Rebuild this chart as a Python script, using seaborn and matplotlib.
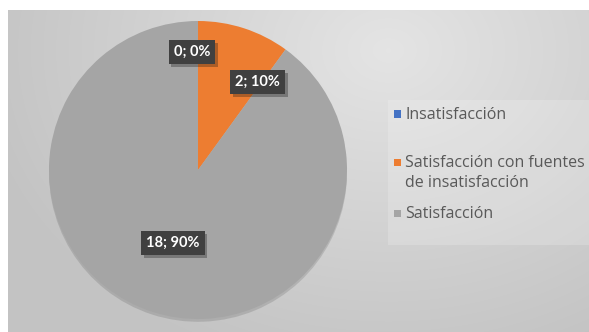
import numpy as np
import matplotlib
matplotlib.use("Agg")
import matplotlib.pyplot as plt
import matplotlib.patheffects as pe
from matplotlib.patches import Rectangle
import seaborn as sns

# Survey results
categories = ["Insatisfacción", "Satisfacción con fuentes\nde insatisfacción", "Satisfacción"]
counts = [0, 2, 18]
colors = ["#4472C4", "#ED7D31", "#A5A5A5"]

sns.set_theme(style="white")
plt.rcParams["font.family"] = ["Lato", "DejaVu Sans"]

W, H = 589, 332
fig = plt.figure(figsize=(W / 100, H / 100), dpi=100)
fig.patch.set_facecolor("white")

# Chart-area background with a soft radial gradient
bg = fig.add_axes([8 / W, 0, (W - 8) / W, (H - 10) / H])
yy, xx = np.mgrid[0:H - 10, 0:W - 8]
d = np.sqrt(((xx - 380) / 420.0) ** 2 + ((yy - 40) / 330.0) ** 2)
d = np.clip(d, 0, 1)
shade = 0.895 - 0.13 * d
bg.imshow(np.dstack([shade] * 3), aspect="auto", interpolation="bilinear")
bg.set_axis_off()

# Lighter legend panel
fig.patches.append(Rectangle((388 / W, 1 - 245 / H), (W - 388) / W, 145 / H,
                             transform=fig.transFigure, facecolor="white",
                             alpha=0.18, edgecolor="none", zorder=1))

# Pie
cx, cy, r = 198, 170, 149
ax = fig.add_axes([(cx - r) / W, (H - cy - r) / H, 2 * r / W, 2 * r / H])
ax.set_facecolor("none")
wedges, _ = ax.pie(counts, colors=colors, startangle=90, counterclock=False,
                   radius=1.0, wedgeprops=dict(linewidth=0))
for w in wedges:
    w.set_path_effects([pe.SimplePatchShadow(offset=(0, -2), alpha=0.12,
                                             shadow_rgbFace="black"), pe.Normal()])
ax.set_xlim(-1, 1)
ax.set_ylim(-1, 1)
ax.set_aspect("equal")
ax.set_axis_off()

# Data labels: "count; percent"
total = sum(counts)
label_pos = [(-0.04, 0.79), (0.40, 0.59), (-0.17, -0.49)]
for n, (lx, ly) in zip(counts, label_pos):
    txt = f"{n}; {round(100 * n / total)}%"
    ax.text(lx, ly, txt, ha="center", va="center", color="white",
            fontsize=10.5, fontweight="bold",
            bbox=dict(boxstyle="square,pad=0.35", facecolor="#404040",
                      edgecolor="none",
                      path_effects=[pe.SimplePatchShadow(offset=(2, -2), alpha=0.3),
                                    pe.Normal()]),
            zorder=5)

# Legend entries (swatch aligned with the first text line)
entry_y = [114, 162, 213]
for label, c, y in zip(categories, colors, entry_y):
    fig.patches.append(Rectangle((394 / W, 1 - (y + 3.5) / H), 7 / W, 7 / H,
                                 transform=fig.transFigure, facecolor=c,
                                 edgecolor="none", zorder=3))
    fig.text(405 / W, 1 - (y - 7) / H, label, ha="left", va="top",
             fontsize=11.5, color="#595959", family=["Open Sans", "DejaVu Sans"],
             linespacing=1.3, zorder=3)

fig.savefig("out.png", dpi=100)
